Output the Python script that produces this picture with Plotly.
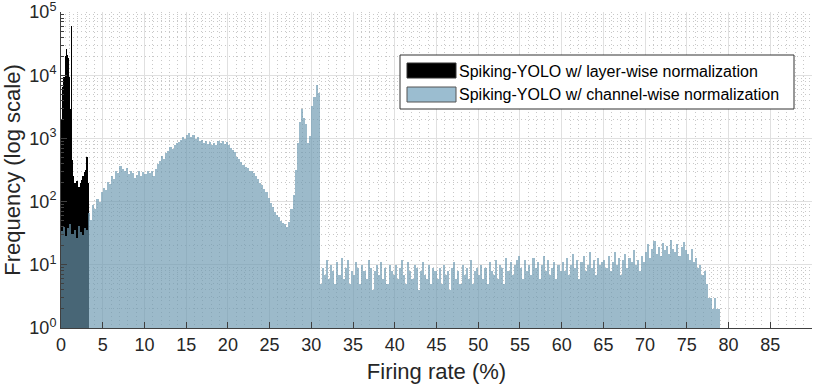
import plotly.graph_objects as go

# bin widths (% firing rate)
layer_bin = 0.1
channel_bin = 0.25

# Spiking-YOLO w/ layer-wise normalization, counts per 0.1 % bin from 0 %
layer_counts = [
    960, 2000, 6600, 9500, 8000, 20000, 26000, 21000, 19000, 9500,
    2900, 1070, 60000, 460, 250, 200, 120, 200, 155, 210,
    120, 170, 145, 200, 130, 220, 250, 200, 290, 320,
    250, 500, 200,
]

# Spiking-YOLO w/ channel-wise normalization, counts per 0.25 % bin from 0 %
channel_counts = [
    # 0 - 5
    34, 40, 29, 38, 45, 31, 36, 27, 41, 33, 30, 38, 35, 66, 52, 88, 75, 110, 98, 140,
    # 5 - 10
    165, 150, 205, 190, 250, 230, 310, 280, 360, 330, 300, 340, 270, 310, 285, 240, 265, 300, 250, 290,
    # 10 - 15
    270, 300, 280, 310, 250, 330, 400, 440, 520, 480, 590, 640, 720, 680, 790, 840, 870, 940, 1050, 990,
    # 15 - 20
    1150, 1230, 1050, 1120, 980, 1060, 900, 960, 850, 910, 820, 880, 790, 860, 800, 920, 850, 900, 830, 880,
    # 20 - 25
    780, 700, 650, 600, 510, 470, 420, 380, 350, 340, 310, 300, 285, 250, 225, 200, 185, 160, 140, 115,
    # 25 - 30
    96, 82, 68, 62, 57, 50, 46, 44, 40, 48, 75, 125, 320, 860, 1800, 2900, 2100, 1700, 850, 1100,
    # 30 - 35
    3200, 4600, 7000, 5300, 5, 9, 7, 12, 6, 10, 8, 5, 11, 7, 13, 6, 9, 12, 5, 8,
    # 35 - 40
    7, 11, 9, 5, 10, 8, 6, 12, 9, 4, 8, 10, 7, 11, 6, 9, 5, 10, 8, 7,
    # 40 - 45
    10, 6, 9, 12, 7, 5, 11, 8, 6, 10, 9, 4, 8, 11, 7, 6, 10, 5, 9, 8,
    # 45 - 50
    6, 9, 5, 10, 7, 8, 4, 9, 11, 6, 8, 5, 10, 7, 9, 6, 12, 5, 8, 9,
    # 50 - 55
    7, 10, 6, 9, 5, 11, 8, 7, 12, 6, 10, 9, 5, 13, 8, 11, 7, 10, 12, 14,
    # 55 - 60
    9, 6, 12, 8, 10, 7, 13, 9, 11, 6, 10, 14, 8, 12, 7, 9, 11, 6, 10, 8,
    # 60 - 65
    11, 8, 13, 7, 10, 15, 9, 12, 6, 11, 14, 8, 10, 16, 9, 12, 7, 13, 10, 11,
    # 65 - 70
    12, 9, 14, 8, 11, 16, 10, 13, 7, 12, 15, 9, 13, 11, 17, 10, 12, 8, 14, 11,
    # 70 - 75
    16, 21, 13, 18, 24, 15, 19, 14, 22, 17, 20, 15, 25, 18, 16, 21, 14, 19, 23, 17,
    # 75 - 79
    15, 12, 18, 11, 13, 9, 10, 7, 8, 5, 3, 3, 2, 3, 2, 2,
]

x_ticks = list(range(0, 90, 5))
y_ticks = [1, 10, 100, 1000, 10000, 100000]
y_ticktext = ["10<sup>%d</sup>" % i for i in range(6)]

legend_names = [
    "Spiking-YOLO w/ layer-wise normalization",
    "Spiking-YOLO w/ channel-wise normalization",
]

layer_color = "#000000"
channel_color = "rgba(107,152,176,0.67)"
axis_color = "#404040"
font_family = "Liberation Sans, Arial, sans-serif"

layer_x = [layer_bin * (i + 0.5) for i in range(len(layer_counts))]
channel_x = [channel_bin * (i + 0.5) for i in range(len(channel_counts))]

fig = go.Figure()
fig.add_trace(
    go.Bar(
        x=layer_x,
        y=layer_counts,
        width=layer_bin,
        name=legend_names[0],
        marker=dict(color=layer_color, line=dict(width=0)),
    )
)
fig.add_trace(
    go.Bar(
        x=channel_x,
        y=channel_counts,
        width=channel_bin,
        name=legend_names[1],
        marker=dict(color=channel_color, line=dict(width=0)),
    )
)

# plot area in pixels, used to place the hand-drawn legend
L, R, T, B = 61, 812, 12, 328


def px(x):
    return (x - L) / (R - L)


def py(y):
    return (B - y) / (B - T)


# legend box + swatches (MATLAB style wide swatches)
fig.add_shape(type="rect", xref="paper", yref="paper",
              x0=px(400), x1=px(794), y0=py(109), y1=py(55),
              fillcolor="white", line=dict(color="#333333", width=1), layer="above")
fig.add_shape(type="rect", xref="paper", yref="paper",
              x0=px(407), x1=px(456), y0=py(78), y1=py(63),
              fillcolor="black", line=dict(color="#333333", width=1), layer="above")
fig.add_shape(type="rect", xref="paper", yref="paper",
              x0=px(407), x1=px(456), y0=py(102), y1=py(87),
              fillcolor="#9bbdd0", line=dict(color="#555555", width=1), layer="above")
for name, yc in zip(legend_names, [71, 94]):
    fig.add_annotation(
        x=px(457), y=py(yc), xref="paper", yref="paper",
        text=name, showarrow=False, xanchor="left", yanchor="middle",
        font=dict(size=16, color="#000000", family=font_family),
    )

minor_dash = "1px,3px"

fig.update_layout(
    width=814,
    height=387,
    barmode="overlay",
    bargap=0,
    showlegend=False,
    plot_bgcolor="white",
    paper_bgcolor="white",
    margin=dict(l=L, r=814 - R, t=T, b=387 - B, autoexpand=False),
    font=dict(family=font_family, size=18, color="#262626"),
    xaxis=dict(
        range=[0, 90],
        tickvals=x_ticks,
        ticks="inside",
        ticklen=6,
        tickcolor=axis_color,
        showline=True,
        linecolor=axis_color,
        linewidth=1,
        showgrid=True,
        gridcolor="#e0e0e0",
        zeroline=False,
        automargin=False,
        title=dict(text="Firing rate (%)", standoff=10),
        minor=dict(dtick=1, showgrid=True, griddash=minor_dash, gridcolor="#c8c8c8", ticks=""),
    ),
    yaxis=dict(
        type="log",
        range=[-0.0005, 5.0005],
        tickvals=y_ticks,
        ticktext=y_ticktext,
        ticks="inside",
        ticklen=6,
        tickcolor=axis_color,
        showline=True,
        linecolor=axis_color,
        linewidth=1,
        showgrid=True,
        gridcolor="#e0e0e0",
        zeroline=False,
        automargin=False,
        ticklabeloverflow="allow",
        title=dict(text="Frequency (log scale)", standoff=4),
        minor=dict(
            tickvals=[m * 10 ** e for e in range(5) for m in range(2, 10)],
            showgrid=True, griddash=minor_dash, gridcolor="#c8c8c8",
            ticks="inside", ticklen=3, tickcolor=axis_color,
        ),
    ),
)

# page body has a default 8px margin; drop it so the figure fills the window
fig.write_html(
    "out.html",
    config={"displayModeBar": False},
    post_script="document.body.style.margin = '0';",
)
